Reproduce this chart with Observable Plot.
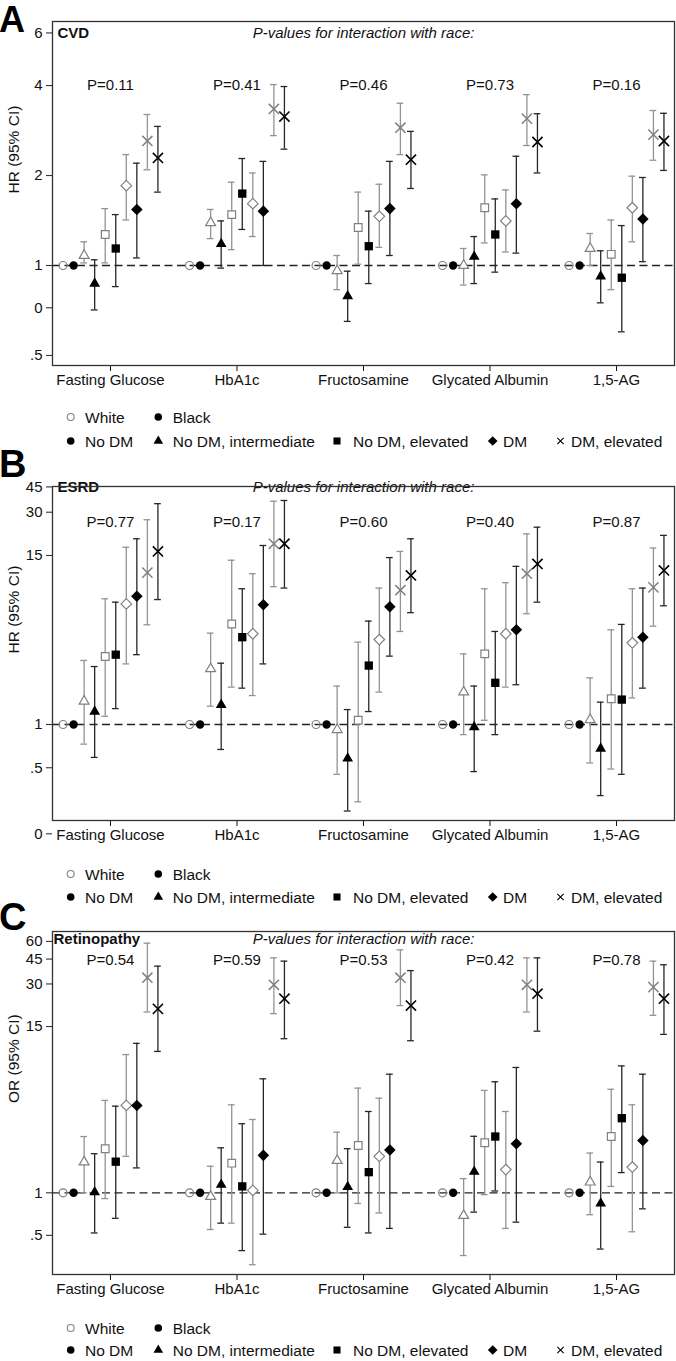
<!DOCTYPE html>
<html><head><meta charset="utf-8">
<script src="https://cdn.jsdelivr.net/npm/d3@7"></script>
<script src="https://cdn.jsdelivr.net/npm/@observablehq/plot@0.6"></script>
<style>
body{margin:0;background:#fff;}
#root{position:relative;width:676px;height:1361px;overflow:hidden;background:#fff;}
#root svg{position:absolute;left:0;}
</style></head><body><div id="root"></div>
<script>
// ---------- data ----------
const markers = ["Fasting Glucose","HbA1c","Fructosamine","Glycated Albumin","1,5-AG"];
const groups = ["No DM, intermediate","No DM, elevated","DM","DM, elevated"];

// each marker: [estimate, lower, upper] for the 4 groups
const cvdWhite = [
  [[1.08,1.02,1.20],[1.27,1.02,1.55],[1.85,1.42,2.35],[2.61,2.09,3.20]],
  [[1.39,1.23,1.54],[1.48,1.13,1.90],[1.61,1.25,2.04],[3.34,2.72,4.03]],
  [[0.96,0.83,1.08],[1.34,1.01,1.76],[1.46,1.15,1.87],[2.89,2.35,3.49]],
  [[1.00,0.86,1.14],[1.56,1.19,2.01],[1.41,1.11,1.79],[3.10,2.52,3.73]],
  [[1.14,1.00,1.28],[1.09,0.83,1.42],[1.56,1.20,1.99],[2.74,2.25,3.30]]
];
const cvdBlack = [
  [[0.87,0.71,1.045],[1.14,0.85,1.48],[1.54,1.06,2.20],[2.29,1.76,2.92]],
  [[1.18,0.98,1.41],[1.74,1.32,2.28],[1.52,1.00,2.23],[3.15,2.45,3.97]],
  [[0.79,0.65,0.957],[1.16,0.87,1.52],[1.55,1.08,2.23],[2.26,1.81,2.81]],
  [[1.07,0.87,1.25],[1.27,0.95,1.67],[1.61,1.10,2.32],[2.59,2.04,3.22]],
  [[0.92,0.75,1.12],[0.91,0.60,1.36],[1.43,1.03,1.97],[2.61,2.08,3.23]]
];
const cvdP = ["0.11","0.41","0.46","0.73","0.16"];
const cvdTicks = [6,4,2,1,0.722,0.5];
const cvdTickLabels = ["6","4","2","1","0",".5"];

const esrdWhite = [
  [[1.45,0.73,2.79],[2.97,1.14,7.5],[6.9,2.64,17.1],[11.4,4.94,26.6]],
  [[2.44,1.34,4.32],[5.0,1.82,13.9],[4.28,1.59,11.2],[18.1,9.1,35.8]],
  [[0.92,0.45,1.85],[1.07,0.29,3.74],[3.9,1.68,8.9],[8.6,4.44,16.0]],
  [[1.68,0.85,3.1],[3.1,1.07,8.8],[4.28,1.82,9.7],[11.2,5.9,21.2]],
  [[1.08,0.54,2.11],[1.51,0.49,4.56],[3.70,1.53,8.8],[9.0,4.83,16.9]]
];
const esrdBlack = [
  [[1.23,0.59,2.53],[3.06,1.29,7.1],[7.8,3.06,19.6],[16.0,7.4,34.4]],
  [[1.37,0.67,2.67],[4.05,1.79,8.8],[6.8,2.64,17.6],[18.1,8.9,36.2]],
  [[0.58,0.25,1.27],[2.57,1.23,5.24],[6.6,2.99,14.5],[10.9,6.0,19.6]],
  [[0.96,0.47,1.85],[1.95,0.85,4.44],[4.56,1.89,12.6],[13.1,7.1,23.6]],
  [[0.68,0.32,1.43],[1.49,0.45,4.97],[4.05,1.79,8.9],[11.8,6.7,20.7]]
];
const esrdP = ["0.77","0.17","0.60","0.40","0.87"];
const esrdTicks = [45,30,15,1,0.5,0.1735];
const esrdTickLabels = ["45","30","15","1",".5","0"];

const retWhite = [
  [[1.65,1.00,2.50],[2.05,0.91,4.5],[4.15,1.81,9.5],[33.2,19.0,58.3]],
  [[0.94,0.55,1.54],[1.62,0.61,4.19],[1.04,0.31,3.30],[29.6,18.5,45.9]],
  [[1.69,1.00,2.68],[2.16,0.84,5.5],[1.81,0.72,4.67],[33.2,21.1,52.3]],
  [[0.69,0.36,1.26],[2.26,0.97,5.3],[1.46,0.56,3.76],[29.6,19.0,45.9]],
  [[1.19,0.70,1.91],[2.50,1.11,5.4],[1.52,0.53,4.19],[28.5,18.0,43.5]]
];
const retBlack = [
  [[1.01,0.52,1.89],[1.66,0.66,4.1],[4.15,1.50,11.4],[20.0,10.0,40.1]],
  [[1.14,0.61,2.08],[1.11,0.39,3.08],[1.84,0.51,6.4],[23.6,12.3,43.5]],
  [[1.10,0.57,2.05],[1.40,0.52,3.76],[2.01,0.56,6.9],[21.1,11.9,37.3]],
  [[1.41,0.73,2.51],[2.50,1.03,6.1],[2.22,0.62,7.7],[25.6,13.9,45.9]],
  [[0.84,0.40,1.65],[3.37,1.39,7.9],[2.34,0.77,6.9],[23.6,13.2,41.0]]
];
const retP = ["0.54","0.59","0.53","0.42","0.78"];
const retTicks = [60,45,30,15,1,0.5];
const retTickLabels = ["60","45","30","15","1",".5"];

// ---------- layout ----------
const FONT = "'Liberation Sans', Arial, Helvetica, sans-serif";
const GRAY = "#808080", GRAYBAR = "#939393", BLACK = "#000", BLACKBAR = "#262626";
const XDOM = [-5.5, 53.5];
const ML = 52, MR = 2, W = 676;
const PXU = (W - ML - MR) / (XDOM[1] - XDOM[0]); // pixels per x unit

const panels = [
  {letter:"A", title:"CVD", ylabel:"HR (95% CI)", top:0, height:400, domain:[0.4628,6.552],
   ticks:cvdTicks, tickLabels:cvdTickLabels, pY:4, titleY:6, titleDx:5,
   white:cvdWhite, black:cvdBlack, p:cvdP, letterBase:32, letterSize:36, legend:[417,441]},
  {letter:"B", title:"ESRD", ylabel:"HR (95% CI)", top:465, height:390, domain:[0.2147,45.3],
   ticks:esrdTicks, tickLabels:esrdTickLabels, pY:25.6, titleY:45, titleDx:5,
   white:esrdWhite, black:esrdBlack, p:esrdP, letterBase:477, letterSize:38, legend:[874,897]},
  {letter:"C", title:"Retinopathy", ylabel:"OR (95% CI)", top:910, height:399, domain:[0.2643,70.5],
   ticks:retTicks, tickLabels:retTickLabels, pY:44, titleY:62, titleDx:1,
   white:retWhite, black:retBlack, p:retP, letterBase:930, letterSize:38, legend:[1328,1350]}
];

const symbols = ["triangle","square","diamond2","times"];
const symR = [4.0, 4.7, 5.2, 4.7];

const root = document.getElementById("root");

panels.forEach(p => {
  const rows = [];
  markers.forEach((m, i) => {
    groups.forEach((g, c) => {
      [p.white, p.black].forEach((arr, r) => {
        const [est, lo, hi] = arr[i][c];
        rows.push({x: 12*i + 2 + 2*c + r - 4.5, est, lo, hi, race: r, cat: c});
      });
    });
  });
  const refs = markers.flatMap((m, i) => [{x: 12*i - 4.5, race: 0, est: 1}, {x: 12*i - 3.5, race: 1, est: 1}]);
  const cw = 0.32;
  const marks = [
    Plot.ruleY([1], {stroke:"#222", strokeWidth:1.3, strokeDasharray:"8,4.5"})
  ];
  [0,1].forEach(r => {
    const d = rows.filter(v => v.race === r);
    const col = r ? BLACKBAR : GRAYBAR;
    marks.push(Plot.ruleX(d, {x:"x", y1:"lo", y2:"hi", stroke:col, strokeWidth:1.3}));
    marks.push(Plot.ruleY(d, {x1: v => v.x - cw, x2: v => v.x + cw, y:"lo", stroke:col, strokeWidth:1.3}));
    marks.push(Plot.ruleY(d, {x1: v => v.x - cw, x2: v => v.x + cw, y:"hi", stroke:col, strokeWidth:1.3}));
  });
  marks.push(Plot.dot(refs.filter(v => v.race === 0), {x:"x", y:"est", r:4, fill:"none", stroke:GRAY, strokeWidth:1.2}));
  marks.push(Plot.dot(refs.filter(v => v.race === 1), {x:"x", y:"est", r:4.2, fill:BLACK}));
  symbols.forEach((s, c) => {
    const w = rows.filter(v => v.race === 0 && v.cat === c);
    const b = rows.filter(v => v.race === 1 && v.cat === c);
    if (s === "times") {
      marks.push(Plot.dot(w, {x:"x", y:"est", symbol:s, r:symR[c], fill:"none", stroke:GRAY, strokeWidth:1.5}));
      marks.push(Plot.dot(b, {x:"x", y:"est", symbol:s, r:symR[c], fill:"none", stroke:BLACK, strokeWidth:1.6}));
    } else {
      marks.push(Plot.dot(w, {x:"x", y:"est", symbol:s, r:symR[c]*0.92, fill:"white", stroke:GRAY, strokeWidth:1.2}));
      marks.push(Plot.dot(b, {x:"x", y:"est", symbol:s, r:symR[c], fill:BLACK, stroke:"none"}));
    }
  });
  marks.push(Plot.text(p.p, {x: (d, i) => 12*i, y: () => p.pY, text: d => "P=" + d, fontSize:15, fill:"#111"}));
  marks.push(Plot.text([p.title], {x: () => XDOM[0], y: () => p.titleY, dx: p.titleDx, text: d => d, textAnchor:"start", fontWeight:"bold", fontSize:15, fill:"#111"}));
  marks.push(Plot.text(["P-values for interaction with race:"], {x: () => 24, y: () => p.titleY, text: d => d, fontStyle:"italic", fontSize:15, fill:"#111"}));
  marks.push(Plot.text([p.ylabel], {frameAnchor:"left", dx:-38, rotate:-90, text: d => d, fontSize:15.5, fill:"#111"}));
  // y axis: tick marks and labels
  marks.push(Plot.ruleY(p.ticks, {y: d => d, x1: () => XDOM[0] - 6 / PXU, x2: () => XDOM[0], stroke:"#333", strokeWidth:1.1}));
  marks.push(Plot.text(p.ticks, {y: d => d, frameAnchor:"left", dx:-10, textAnchor:"end", text: (d, i) => p.tickLabels[i], fontSize:15, fill:"#111"}));
  marks.push(Plot.axisX({ticks: [0,12,24,36,48], tickFormat: d => markers[Math.round(d/12)], tickSize:6, tickPadding:3, label:null, fontSize:15}));
  marks.push(Plot.frame({stroke:"#333", strokeWidth:1.3}));

  const svg = Plot.plot({
    width: W, height: p.height,
    marginLeft: ML, marginRight: MR, marginTop: 21, marginBottom: 35,
    x: {type:"linear", domain: XDOM},
    y: {type:"log", domain: p.domain, axis: null},
    style: {fontFamily: FONT, fontSize:"15px", color:"#111", background:"transparent", overflow:"visible"},
    marks
  });
  svg.style.top = p.top + "px";
  root.appendChild(svg);
});

// ---------- overlay: panel letters and legends ----------
const ns = "http://www.w3.org/2000/svg";
const ov = document.createElementNS(ns, "svg");
ov.setAttribute("width", 676); ov.setAttribute("height", 1361);
ov.style.top = "0px"; ov.style.fontFamily = FONT;
root.appendChild(ov);

function txt(x, y, s, attrs) {
  const t = document.createElementNS(ns, "text");
  t.setAttribute("x", x); t.setAttribute("y", y);
  for (const k in attrs) t.setAttribute(k, attrs[k]);
  t.textContent = s; ov.appendChild(t); return t;
}
function sym(type, x, y, size, fill, stroke, sw) {
  const path = document.createElementNS(ns, "path");
  path.setAttribute("d", d3.symbol(type, size)());
  path.setAttribute("transform", `translate(${x},${y})`);
  path.setAttribute("fill", fill); path.setAttribute("stroke", stroke);
  path.setAttribute("stroke-width", sw);
  ov.appendChild(path);
}

const legendRace = ["White", "Black"];
const legendGroups = ["No DM", ...groups];

panels.forEach(p => {
  txt(-1, p.letterBase, p.letter, {"font-size": p.letterSize, "font-weight": "bold", fill: "#000"});
  const [y1, y2] = p.legend;
  const la = {"font-size": 15.5, fill: "#111", "dominant-baseline": "central"};
  // row 1
  sym(d3.symbolCircle, 70.7, y1, 38, "none", GRAY, 1.1);
  txt(85, y1, legendRace[0], la);
  sym(d3.symbolCircle, 158.3, y1, 45, BLACK, "none", 0);
  txt(172.7, y1, legendRace[1], la);
  // row 2
  const xs = [70.7, 158.3, 337, 492.7, 560.5];
  const tx = [85, 172.7, 353, 503, 571];
  const types = [d3.symbolCircle, d3.symbolTriangle, d3.symbolSquare, d3.symbolDiamond2, d3.symbolTimes];
  const sizes = [45, 40, 50, 60, 28];
  legendGroups.forEach((g, i) => {
    if (i === 4) sym(types[i], xs[i], y2, sizes[i], "none", BLACK, 1.1);
    else sym(types[i], xs[i], y2, sizes[i], BLACK, "none", 0);
    txt(tx[i], y2, g, la);
  });
});
</script></body></html>
